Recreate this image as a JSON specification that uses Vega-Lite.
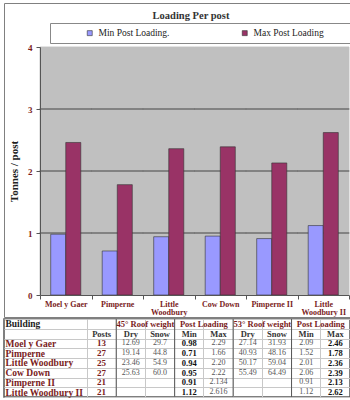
{
  "$schema": "https://vega.github.io/schema/vega-lite/v6.json",
  "padding": {"left": 2, "top": 2, "right": 0, "bottom": 0},
  "background": "white",
  "spacing": 2,
  "bounds": "flush",
  "datasets": {
    "loads": [
      {"building": "Moel y Gaer", "series": "Min Post Loading.", "tonnes": 0.98},
      {"building": "Moel y Gaer", "series": "Max Post Loading", "tonnes": 2.46},
      {"building": "Pimperne", "series": "Min Post Loading.", "tonnes": 0.71},
      {"building": "Pimperne", "series": "Max Post Loading", "tonnes": 1.78},
      {"building": "Little Woodbury", "series": "Min Post Loading.", "tonnes": 0.94},
      {"building": "Little Woodbury", "series": "Max Post Loading", "tonnes": 2.36},
      {"building": "Cow Down", "series": "Min Post Loading.", "tonnes": 0.95},
      {"building": "Cow Down", "series": "Max Post Loading", "tonnes": 2.39},
      {"building": "Pimperne II", "series": "Min Post Loading.", "tonnes": 0.91},
      {"building": "Pimperne II", "series": "Max Post Loading", "tonnes": 2.13},
      {"building": "Little Woodbury II", "series": "Min Post Loading.", "tonnes": 1.12},
      {"building": "Little Woodbury II", "series": "Max Post Loading", "tonnes": 2.62}
    ],
    "cells": [
      {"row": "Moel y Gaer", "Posts": "13", "Dry45": "12.69", "Snow45": "29.7", "Min45": "0.98", "Max45": "2.29", "Dry53": "27.14", "Snow53": "31.93", "Min53": "2.09", "Max53": "2.46"},
      {"row": "Pimperne", "Posts": "27", "Dry45": "19.14", "Snow45": "44.8", "Min45": "0.71", "Max45": "1.66", "Dry53": "40.93", "Snow53": "48.16", "Min53": "1.52", "Max53": "1.78"},
      {"row": "Little Woodbury", "Posts": "25", "Dry45": "23.46", "Snow45": "54.9", "Min45": "0.94", "Max45": "2.20", "Dry53": "50.17", "Snow53": "59.04", "Min53": "2.01", "Max53": "2.36"},
      {"row": "Cow Down", "Posts": "27", "Dry45": "25.63", "Snow45": "60.0", "Min45": "0.95", "Max45": "2.22", "Dry53": "55.49", "Snow53": "64.49", "Min53": "2.06", "Max53": "2.39"},
      {"row": "Pimperne II", "Posts": "21", "Min45": "0.91", "Max45": "2.134", "Min53": "0.91", "Max53": "2.13"},
      {"row": "Little Woodbury II", "Posts": "21", "Min45": "1.12", "Max45": "2.616", "Min53": "1.12", "Max53": "2.62"}
    ],
    "head1": [
      {"row": "hdr1", "col": "Snow45", "text": "45° Roof weight"},
      {"row": "hdr1", "col": "Max45", "text": "Post Loading"},
      {"row": "hdr1", "col": "Snow53", "text": "53° Roof weight"},
      {"row": "hdr1", "col": "Max53", "text": "Post Loading"}
    ],
    "head2": [
      {"row": "hdr2", "col": "Posts", "text": "Posts"},
      {"row": "hdr2", "col": "Dry45", "text": "Dry"},
      {"row": "hdr2", "col": "Snow45", "text": "Snow"},
      {"row": "hdr2", "col": "Min45", "text": "Min"},
      {"row": "hdr2", "col": "Max45", "text": "Max"},
      {"row": "hdr2", "col": "Dry53", "text": "Dry"},
      {"row": "hdr2", "col": "Snow53", "text": "Snow"},
      {"row": "hdr2", "col": "Min53", "text": "Min"},
      {"row": "hdr2", "col": "Max53", "text": "Max"}
    ],
    "seps": [
      {"col": "Dry45"}, {"col": "Min45"}, {"col": "Dry53"}, {"col": "Min53"}
    ]
  },
  "resolve": {"scale": {"x": "independent", "y": "independent", "color": "independent"}},
  "vconcat": [
    {
      "width": 346,
      "height": 314,
      "view": {"stroke": "#808080", "strokeWidth": 1, "fill": "white"},
      "title": {"text": "Loading Per post", "offset": -18, "frame": "group", "anchor": "middle", "dx": 14, "fontSize": 10.5, "fontWeight": "bold", "font": "Liberation Serif", "color": "#333333"},
      "data": {"name": "loads"},
      "encoding": {
        "x": {
          "field": "building", "type": "nominal",
          "sort": ["Moel y Gaer", "Pimperne", "Little Woodbury", "Cow Down", "Pimperne II", "Little Woodbury II"],
          "scale": {"range": [36, 345], "paddingInner": 0, "paddingOuter": 0},
          "axis": {
            "orient": "bottom", "offset": -22, "zindex": 1, "title": null, "grid": false,
            "domainColor": "#555555", "tickColor": "#555555", "tickSize": 4, "tickBand": "extent",
            "labelAngle": 0, "labelAlign": "center", "labelFlush": false, "labelBound": false, "labelOverlap": false,
            "labelFont": "Liberation Serif", "labelFontWeight": "bold", "labelFontSize": 8,
            "labelColor": "#7a1c1c", "labelPadding": 1, "labelLimit": 0, "labelLineHeight": 8.5, "labelBaseline": "top",
            "labelExpr": "datum.label == 'Little Woodbury' ? ['Little', 'Woodbury'] : datum.label == 'Little Woodbury II' ? ['Little', 'Woodbury II'] : datum.label"
          }
        }
      },
      "layer": [
        {
          "mark": {"type": "rect", "fill": "#c0c0c0", "stroke": "#c0c0c0", "strokeWidth": 0.5},
          "encoding": {"y": {"datum": 4, "type": "quantitative"}, "y2": {"datum": 0}}
        },
        {
          "mark": {"type": "tick", "orient": "horizontal", "color": "#6e6e6e", "thickness": 1, "size": 52, "opacity": 1},
          "encoding": {"y": {"datum": 1, "type": "quantitative"}}
        },
        {
          "mark": {"type": "tick", "orient": "horizontal", "color": "#6e6e6e", "thickness": 1, "size": 52, "opacity": 1},
          "encoding": {"y": {"datum": 2, "type": "quantitative"}}
        },
        {
          "mark": {"type": "tick", "orient": "horizontal", "color": "#6e6e6e", "thickness": 1, "size": 52, "opacity": 1},
          "encoding": {"y": {"datum": 3, "type": "quantitative"}}
        },
        {
          "mark": {"type": "bar", "stroke": "#333333", "strokeWidth": 0.6},
          "encoding": {
            "xOffset": {"field": "series", "type": "nominal", "sort": ["Min Post Loading.", "Max Post Loading"], "scale": {"paddingOuter": 0.71, "paddingInner": 0}},
            "y": {
              "field": "tonnes", "type": "quantitative",
              "scale": {"domain": [0, 4], "nice": false, "range": [292, 44]},
              "axis": {
                "orient": "left", "offset": -36, "zindex": 1, "values": [0, 1, 2, 3, 4], "format": "d", "grid": false,
                "title": "Tonnes / post", "titleFont": "Liberation Serif", "titleFontSize": 11, "titleFontWeight": "bold", "titleColor": "#222222", "titlePadding": 8,
                "domainColor": "#555555", "tickColor": "#555555", "tickSize": 4,
                "labelFont": "Liberation Serif", "labelFontSize": 9, "labelFontWeight": "bold", "labelColor": "#7a1c1c", "labelPadding": 4
              }
            },
            "color": {
              "field": "series", "type": "nominal",
              "scale": {"domain": ["Min Post Loading.", "Max Post Loading"], "range": ["#9999ff", "#993366"]},
              "legend": {
                "orient": "none", "legendX": 46, "legendY": 20, "direction": "horizontal",
                "title": " ", "titleOrient": "right", "titlePadding": 25,
                "fillColor": "white", "strokeColor": "#888888", "padding": 5,
                "symbolOffset": 30, "columnPadding": 40, "symbolType": "square", "symbolSize": 25,
                "symbolStrokeColor": "#333333", "symbolStrokeWidth": 0.6,
                "labelFont": "Liberation Serif", "labelFontSize": 9.5, "labelColor": "#222222", "labelOffset": 4
              }
            }
          }
        }
      ]
    },
    {
      "width": 346,
      "height": 78,
      "view": {"stroke": "#555555", "strokeWidth": 1.5},
      "layer": [
        {
          "data": {"name": "head2"},
          "mark": {"type": "text", "font": "Liberation Serif", "fontSize": 8.5, "fontWeight": "bold", "color": "#333333", "baseline": "middle"},
          "encoding": {
            "x": {
              "field": "col", "type": "nominal",
              "scale": {"domain": ["Posts", "Dry45", "Snow45", "Min45", "Max45", "Dry53", "Snow53", "Min53", "Max53"], "range": [83, 346], "paddingInner": 0, "paddingOuter": 0},
              "axis": {"orient": "top", "labels": false, "ticks": false, "domain": false, "title": null, "grid": true, "gridColor": "#c8c8c8", "bandPosition": 0}
            },
            "y": {
              "field": "row", "type": "nominal",
              "scale": {"domain": ["hdr1", "hdr2", "Moel y Gaer", "Pimperne", "Little Woodbury", "Cow Down", "Pimperne II", "Little Woodbury II"], "paddingInner": 0, "paddingOuter": 0},
              "axis": {
                "orient": "left", "offset": -83, "domain": false, "ticks": true, "tickSize": 83, "tickColor": "#c8c8c8",
                "tickBand": "extent", "grid": true, "gridColor": "#c8c8c8", "title": null,
                "labelAlign": "left", "labelPadding": -1, "labelFont": "Liberation Serif", "labelFontSize": 9.5, "labelFontWeight": "bold",
                "labelColor": {"condition": {"test": "datum.value == 'hdr1'", "value": "#222222"}, "value": "#7a1c1c"},
                "labelExpr": "datum.value == 'hdr1' ? 'Building' : datum.value == 'hdr2' ? '' : datum.label",
                "labelLimit": 0
              }
            },
            "text": {"field": "text", "type": "nominal"}
          }
        },
        {
          "data": {"name": "seps"},
          "mark": {"type": "rule", "color": "#555555", "strokeWidth": 1},
          "encoding": {"x": {"field": "col", "type": "nominal", "bandPosition": 0}}
        },
        {
          "data": {"name": "head1"},
          "mark": {"type": "text", "font": "Liberation Serif", "fontSize": 8.5, "fontWeight": "bold", "color": "#7a1c1c", "baseline": "middle", "align": "center"},
          "encoding": {
            "x": {"field": "col", "type": "nominal", "bandPosition": 0},
            "y": {"field": "row", "type": "nominal"},
            "text": {"field": "text", "type": "nominal"}
          }
        },
        {
          "data": {"name": "cells"},
          "transform": [{"fold": ["Posts"], "as": ["col", "text"]}],
          "mark": {"type": "text", "font": "Liberation Serif", "fontSize": 9, "fontWeight": "bold", "color": "#7a1c1c", "baseline": "middle"},
          "encoding": {
            "x": {"field": "col", "type": "nominal"},
            "y": {"field": "row", "type": "nominal"},
            "text": {"field": "text", "type": "nominal"}
          }
        },
        {
          "data": {"name": "cells"},
          "transform": [{"fold": ["Min45", "Max53"], "as": ["col", "text"]}],
          "mark": {"type": "text", "font": "Liberation Serif", "fontSize": 8.5, "fontWeight": "bold", "color": "#111111", "baseline": "middle"},
          "encoding": {
            "x": {"field": "col", "type": "nominal"},
            "y": {"field": "row", "type": "nominal"},
            "text": {"field": "text", "type": "nominal"}
          }
        },
        {
          "data": {"name": "cells"},
          "transform": [
            {"fold": ["Dry45", "Snow45", "Max45", "Dry53", "Snow53", "Min53"], "as": ["col", "text"]},
            {"filter": "isValid(datum.text)"}
          ],
          "mark": {"type": "text", "font": "Liberation Serif", "fontSize": 8, "color": "#555555", "baseline": "middle"},
          "encoding": {
            "x": {"field": "col", "type": "nominal"},
            "y": {"field": "row", "type": "nominal"},
            "text": {"field": "text", "type": "nominal"}
          }
        }
      ]
    }
  ]
}
